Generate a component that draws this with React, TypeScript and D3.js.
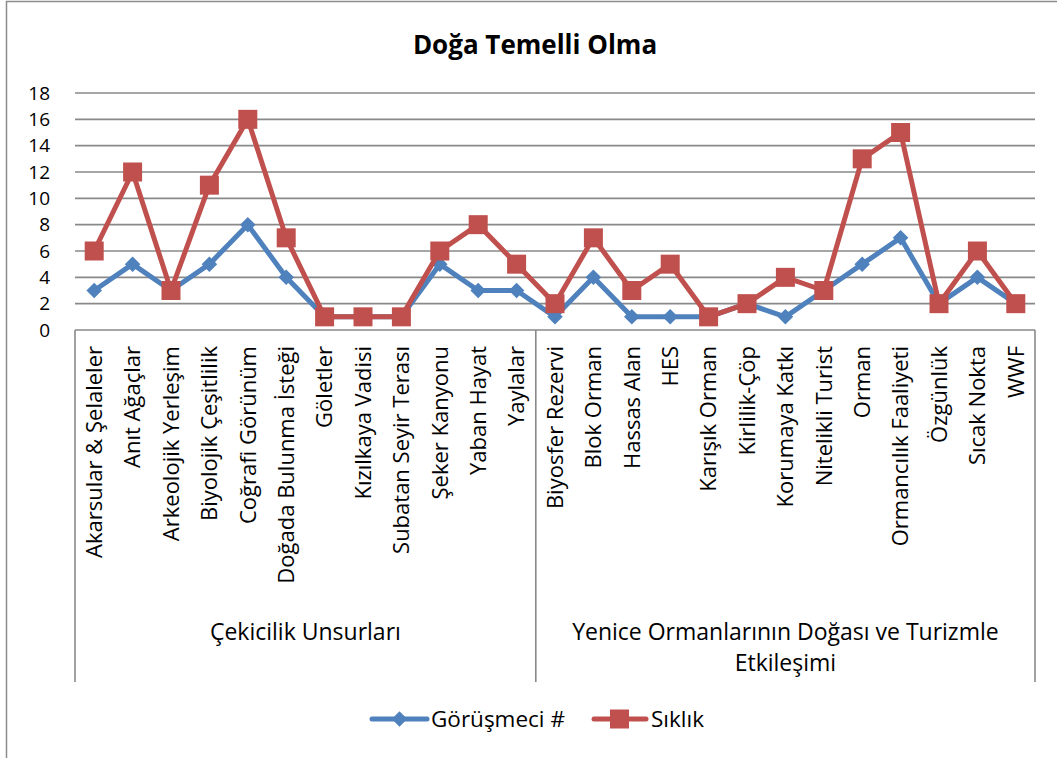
import { scaleBand, scaleLinear, line } from 'd3'

const groupOne = [
  'Akarsular & Şelaleler',
  'Anıt Ağaçlar',
  'Arkeolojik Yerleşim',
  'Biyolojik Çeşitlilik',
  'Coğrafi Görünüm',
  'Doğada Bulunma İsteği',
  'Göletler',
  'Kızılkaya Vadisi',
  'Subatan Seyir Terası',
  'Şeker Kanyonu',
  'Yaban Hayat',
  'Yaylalar',
]

const groupTwo = [
  'Biyosfer Rezervi',
  'Blok Orman',
  'Hassas Alan',
  'HES',
  'Karışık Orman',
  'Kirlilik-Çöp',
  'Korumaya Katkı',
  'Nitelikli Turist',
  'Orman',
  'Ormancılık Faaliyeti',
  'Özgünlük',
  'Sıcak Nokta',
  'WWF',
]

const groupNames = [['Çekicilik Unsurları'], ['Yenice Ormanlarının Doğası ve Turizmle', 'Etkileşimi']]

const categories = [...groupOne, ...groupTwo]

const gorusmeci = [3, 5, 3, 5, 8, 4, 1, 1, 1, 5, 3, 3, 1, 4, 1, 1, 1, 2, 1, 3, 5, 7, 2, 4, 2]
const siklik = [6, 12, 3, 11, 16, 7, 1, 1, 1, 6, 8, 5, 2, 7, 3, 5, 1, 2, 4, 3, 13, 15, 2, 6, 2]

const yTicks = [0, 2, 4, 6, 8, 10, 12, 14, 16, 18]

const blue = '#4F81BD'
const red = '#C0504D'
const gridColor = '#898989'
const font = '"Open Sans", "Noto Sans", sans-serif'
const fontSize = 22

const width = 1057
const height = 758
const plot = { left: 75, right: 1035, top: 93, bottom: 330 }

export default function App() {
  const x = scaleBand<string>().domain(categories).range([plot.left, plot.right])
  const y = scaleLinear().domain([0, 18]).range([plot.bottom, plot.top])
  const cx = (c: string) => (x(c) ?? 0) + x.bandwidth() / 2

  const path = line<number>()
    .x((_, i) => cx(categories[i]))
    .y((d) => y(d))

  const groupStart = [plot.left, x(groupTwo[0]) ?? 0, plot.right]
  const boxBottom = 682

  return (
    <svg
      width={width}
      height={height}
      style={{ position: 'absolute', left: 0, top: 0, background: '#fff' }}
      fontFamily={font}
    >
      <rect x={6.5} y={1.5} width={width + 10} height={height + 10} fill="#fff" stroke="#8c8c8c" strokeWidth={1.5} />

      <text x={535} y={54} textAnchor="middle" fontSize={26} fontWeight="bold" fill="#000">
        Doğa Temelli Olma
      </text>

      {yTicks.map((t) => (
        <g key={t}>
          {t > 0 && (
            <line x1={plot.left} x2={plot.right} y1={y(t)} y2={y(t)} stroke={gridColor} strokeWidth={1.6} />
          )}
          <text x={50} y={y(t)} dy="0.35em" textAnchor="end" fontSize={19} fill="#000">
            {t}
          </text>
        </g>
      ))}

      {/* category box */}
      <line x1={plot.left} x2={plot.right} y1={plot.bottom} y2={plot.bottom} stroke={gridColor} strokeWidth={1.6} />
      {groupStart.map((gx, i) => (
        <line key={i} x1={gx} x2={gx} y1={plot.bottom} y2={boxBottom} stroke={gridColor} strokeWidth={1.6} />
      ))}

      {categories.map((c) => (
        <text
          key={c}
          transform={`translate(${cx(c)}, 346) rotate(-90)`}
          textAnchor="end"
          dy="0.35em"
          fontSize={fontSize}
          fill="#000"
        >
          {c}
        </text>
      ))}

      {groupNames.map((lines, i) => {
        const mid = (groupStart[i] + groupStart[i + 1]) / 2
        return (
          <text key={i} x={mid} y={640} textAnchor="middle" fontSize={23} fill="#000">
            {lines.map((l, j) => (
              <tspan key={j} x={mid} dy={j === 0 ? 0 : 31}>
                {l}
              </tspan>
            ))}
          </text>
        )
      })}

      {/* Görüşmeci # */}
      <path d={path(gorusmeci) ?? ''} fill="none" stroke={blue} strokeWidth={5} strokeLinejoin="round" />
      {gorusmeci.map((v, i) => (
        <rect
          key={i}
          x={-5.5}
          y={-5.5}
          width={11}
          height={11}
          fill={blue}
          transform={`translate(${cx(categories[i])}, ${y(v)}) rotate(45)`}
        />
      ))}

      {/* Sıklık */}
      <path d={path(siklik) ?? ''} fill="none" stroke={red} strokeWidth={5} strokeLinejoin="round" />
      {siklik.map((v, i) => (
        <rect key={i} x={cx(categories[i]) - 9.5} y={y(v) - 9.5} width={19} height={19} fill={red} />
      ))}

      {/* legend */}
      <g>
        <line x1={372} x2={427} y1={719} y2={719} stroke={blue} strokeWidth={5} strokeLinecap="round" />
        <rect x={-5.5} y={-5.5} width={11} height={11} fill={blue} transform="translate(399.5, 719) rotate(45)" />
        <text x={431} y={719} dy="0.35em" fontSize={22.5} fill="#000">
          Görüşmeci #
        </text>
        <line x1={594} x2={646} y1={719} y2={719} stroke={red} strokeWidth={5} strokeLinecap="round" />
        <rect x={610} y={709.5} width={19} height={19} fill={red} />
        <text x={651} y={719} dy="0.35em" fontSize={22.5} fill="#000">
          Sıklık
        </text>
      </g>
    </svg>
  )
}
